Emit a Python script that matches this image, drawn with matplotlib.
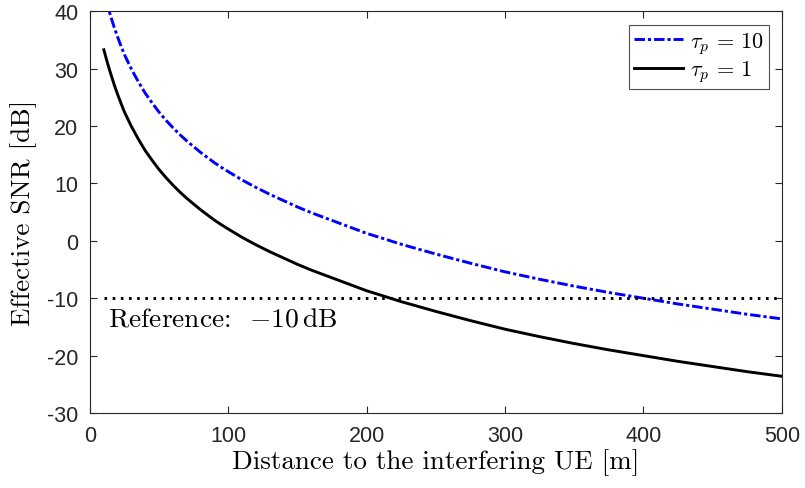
import matplotlib
matplotlib.use("Agg")
import matplotlib.pyplot as plt

plt.rcParams["mathtext.fontset"] = "cm"
plt.rcParams["font.family"] = ["Liberation Sans", "DejaVu Sans"]
plt.rcParams["axes.unicode_minus"] = False

# Distance to the interfering UE [m]
distance = [10, 12.5, 15, 17.5, 20, 22.5, 25, 30, 35, 40, 45, 50, 55, 60, 65,
            70, 75, 80, 85, 90, 95, 100, 110, 120, 130, 140, 150, 160, 170,
            180, 190, 200, 210, 225, 250, 275, 300, 325, 350, 375, 400, 425,
            450, 475, 500]

# Effective SNR [dB] for tau_p = 1
snr_tau1 = [33.3, 31.1, 29.1, 27.2, 25.5, 23.9, 22.4, 19.9, 17.7, 15.7,
            14.0, 12.4, 11.0, 9.7, 8.5, 7.4, 6.4, 5.4, 4.5, 3.6, 2.8, 2.05,
            0.6, -0.7, -1.9, -3.0, -4.1, -5.1, -6.0, -6.9, -7.8, -8.7, -9.45,
            -10.6, -12.3, -13.9, -15.4, -16.7, -17.9, -19.0, -20.0, -21.0,
            -21.9, -22.8, -23.6]

# Effective SNR [dB] for tau_p = 10
snr_tau10 = [43.3, 41.1, 39.1, 37.2, 35.5, 33.9, 32.4, 29.9, 27.7, 25.7,
             24.0, 22.4, 21.0, 19.7, 18.5, 17.4, 16.4, 15.4, 14.5, 13.6,
             12.8, 12.05, 10.6, 9.3, 8.1, 7.0, 5.9, 4.9, 4.0, 3.1, 2.2, 1.3,
             0.55, -0.6, -2.3, -3.9, -5.4, -6.7, -7.9, -9.0, -10.0, -11.0,
             -11.9, -12.8, -13.6]

reference_db = -10
reference_span = [10, 500]

x_ticks = [0, 100, 200, 300, 400, 500]
y_ticks = [-30, -20, -10, 0, 10, 20, 30, 40]

axis_color = "#262626"
serif = "cmr10"

fig = plt.figure(figsize=(8.05, 4.89), dpi=100)
ax = fig.add_axes([0.1118, 0.1534, 0.9711 - 0.1118, 0.9748 - 0.1534])

ax.plot(distance, snr_tau10, color=(0, 0, 1), lw=2.1,
        linestyle=(0, (3.6, 1.0, 1.1, 1.0)), label=r"$\tau_p\,=\,10$")
ax.plot(distance, snr_tau1, color="black", lw=2.1, label=r"$\tau_p\,=\,1$")
ax.plot(reference_span, [reference_db, reference_db], color="black", lw=2.1,
        linestyle=(0, (0.9, 1.9)))

ax.text(13, -13.6, r"Reference:  $-10\,\mathrm{dB}$", fontfamily=serif,
        fontsize=19.8, va="center", ha="left")

ax.set_xlim(0, 500)
ax.set_ylim(-30, 40)
ax.set_xticks(x_ticks)
ax.set_yticks(y_ticks)
ax.tick_params(direction="in", length=5, width=0.8, colors=axis_color,
               labelsize=15.5, top=True, right=True, pad=8.5)
for sp in ax.spines.values():
    sp.set_color(axis_color)
    sp.set_linewidth(0.8)

ax.set_xlabel("Distance to the interfering UE [m]", fontfamily=serif,
              fontsize=19.5, labelpad=1.5)
ax.set_ylabel("Effective SNR [dB]", fontfamily=serif, fontsize=19.5,
              labelpad=7)

leg = ax.legend(loc="upper right", fontsize=16, handlelength=2.2,
                frameon=True, fancybox=False, borderpad=0.22,
                labelspacing=0.12, handletextpad=0.3, borderaxespad=0,
                bbox_to_anchor=(0.981, 0.966))
leg.get_frame().set_edgecolor(axis_color)
leg.get_frame().set_linewidth(0.8)

fig.savefig("out.png", dpi=100)
